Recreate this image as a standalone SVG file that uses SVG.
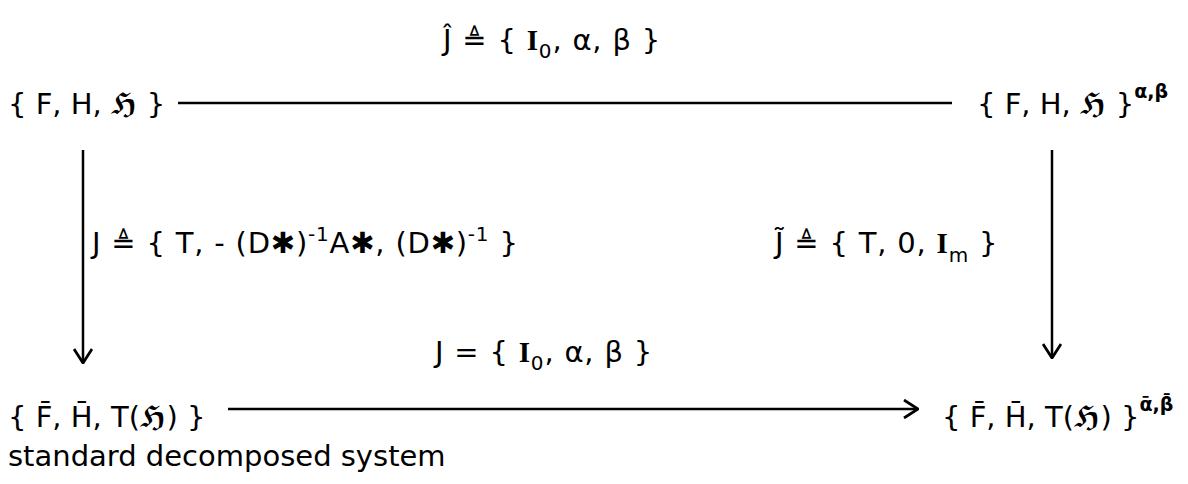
<svg xmlns="http://www.w3.org/2000/svg" width="1188" height="484" viewBox="0 0 1188 484">
<style>
.t{font-family:"DejaVu Sans","Liberation Sans",sans-serif;font-size:29px;fill:#000}
.l{letter-spacing:0.8px}
.i{font-family:"Liberation Serif",serif;font-weight:bold}
.fr{font-family:"DejaVu Serif","DejaVu Sans",serif;font-weight:bold}
.s{font-size:20px}
.sb{font-size:19px;font-weight:bold}
.ln{stroke:#000;stroke-width:2.5;fill:none}
</style>
<defs>
<marker id="ah" viewBox="0 0 16 20" refX="15" refY="10" markerWidth="16" markerHeight="20" markerUnits="userSpaceOnUse" orient="auto">
<path d="M1,1 L15,10 L1,19" fill="none" stroke="#000" stroke-width="2.8"/>
</marker>
</defs>
<rect width="1188" height="484" fill="#fff"/>
<g id="connectors">
<line class="ln" x1="178" y1="103" x2="952" y2="103"/>
<line class="ln" x1="83" y1="150" x2="83" y2="363" marker-end="url(#ah)"/>
<line class="ln" x1="1052" y1="150" x2="1052" y2="358" marker-end="url(#ah)"/>
<line class="ln" x1="228" y1="409" x2="918" y2="409" marker-end="url(#ah)"/>
</g>
<g id="n1"><text class="t" x="8" y="114">{ F, H, <tspan class="fr">ℌ</tspan> }</text></g>
<g id="n2"><text class="t" x="977" y="114">{ F, H, <tspan class="fr">ℌ</tspan> }<tspan class="sb" dy="-16">α,β</tspan></text></g>
<g id="n3"><text class="t" x="8" y="427">{ F̄, H̄, T(<tspan class="fr">ℌ</tspan>) }</text></g>
<g id="n4"><text class="t" x="942" y="427">{ F̄, H̄, T(<tspan class="fr">ℌ</tspan>) }<tspan class="sb" dy="-16">ᾱ,β̄</tspan></text></g>
<g id="lbl-top"><text class="t l" x="443" y="50">Ĵ ≜ { <tspan class="i">I</tspan><tspan class="s" dy="8">0</tspan><tspan dy="-8">, α, β }</tspan></text></g>
<g id="lbl-left"><text class="t l" x="92" y="253">J ≜ { T, - (D✱)<tspan class="s" dy="-12">-1</tspan><tspan dy="12">A✱, (D✱)</tspan><tspan class="s" dy="-12">-1</tspan><tspan dy="12"> }</tspan></text></g>
<g id="lbl-right"><text class="t l" x="775" y="253">J̃ ≜ { T, 0, <tspan class="i">I</tspan><tspan class="s" dy="9">m</tspan><tspan dy="-9"> }</tspan></text></g>
<g id="lbl-bottom"><text class="t l" x="435" y="362">J = { <tspan class="i">I</tspan><tspan class="s" dy="8">0</tspan><tspan dy="-8">, α, β }</tspan></text></g>
<g id="caption"><text class="t" x="8" y="466">standard decomposed system</text></g>
</svg>
